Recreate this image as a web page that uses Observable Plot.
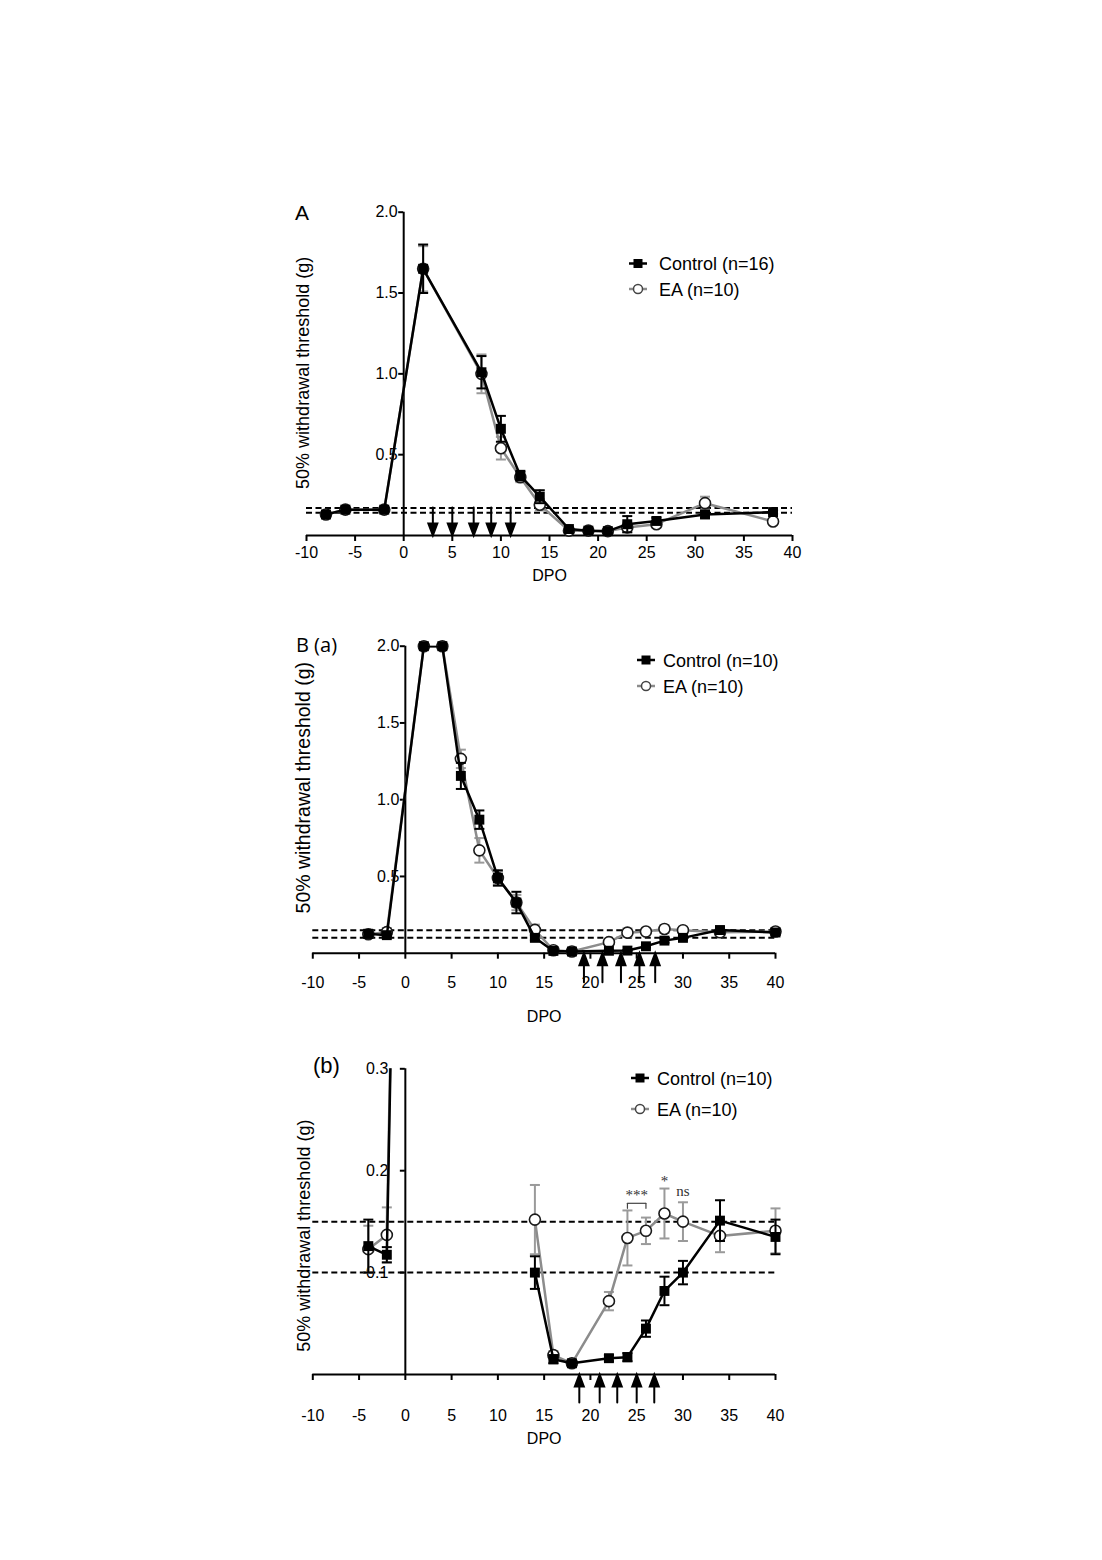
<!DOCTYPE html>
<html>
<head>
<meta charset="utf-8">
<script src="https://cdn.jsdelivr.net/npm/d3@7"></script>
<script src="https://cdn.jsdelivr.net/npm/@observablehq/plot@0.6"></script>
<style>
  html, body { margin: 0; padding: 0; background: #fff; }
  #page { position: relative; width: 1102px; height: 1560px; background: #fff; overflow: hidden; }
  #page > svg { position: absolute; left: 0; }
</style>
</head>
<body>
<div id="page"></div>
<script>
// ---------------- data ----------------
const xTicks = [-10, -5, 0, 5, 10, 15, 20, 25, 30, 35, 40];
const yLabel = "50% withdrawal threshold (g)";
const xLabel = "DPO";

// Panel A
const daysA = [-8, -6, -2, 2, 8, 10, 12, 14, 17, 19, 21, 23, 26, 31, 38];
const controlA = [0.13, 0.16, 0.16, 1.65, 1.01, 0.66, 0.37, 0.24, 0.04, 0.03, 0.027, 0.07, 0.09, 0.13, 0.145];
const controlErrA = [0.01, 0.01, 0.01, 0.15, 0.10, 0.08, 0.03, 0.04, 0.01, 0.01, 0.01, 0.05, 0.02, 0.02, 0.01];
const eaA = [0.13, 0.16, 0.16, 1.65, 1.0, 0.54, 0.36, 0.19, 0.03, 0.03, 0.027, 0.05, 0.07, 0.20, 0.087];
const eaErrA = [0.01, 0.01, 0.01, 0.14, 0.12, 0.07, 0.03, 0.035, 0.01, 0.01, 0.01, 0.03, 0.02, 0.04, 0.01];
const thresholdsA = [0.14, 0.17];
const treatDaysA = [3, 5, 7.2, 9, 11];
const yTicksA = [0.5, 1.0, 1.5, 2.0];
const legendA = ["Control (n=16)", "EA (n=10)"];

// Panel B
const daysB = [-4, -2, 2, 4, 6, 8, 10, 12, 14, 16, 18, 22, 24, 26, 28, 30, 34, 40];
const controlB = [0.126, 0.1175, 2.0, 2.0, 1.155, 0.87, 0.49, 0.33, 0.100, 0.015, 0.011, 0.016, 0.017, 0.045, 0.082, 0.100, 0.151, 0.135];
const controlErrB = [0.026, 0.0075, 0, 0, 0.085, 0.06, 0.05, 0.07, 0.016, 0.004, 0.003, 0.003, 0.004, 0.008, 0.014, 0.0115, 0.02, 0.017];
const eaB = [0.123, 0.137, 2.0, 2.0, 1.266, 0.67, 0.49, 0.33, 0.152, 0.019, 0.011, 0.072, 0.134, 0.141, 0.158, 0.150, 0.136, 0.141];
const eaErrB = [0.023, 0.027, 0, 0, 0.06, 0.08, 0.04, 0.05, 0.034, 0.004, 0.003, 0.009, 0.027, 0.013, 0.0245, 0.019, 0.016, 0.022];
const thresholdsB = [0.10, 0.15];
const treatDaysBa = [19.3, 21.3, 23.3, 25.3, 27.0];
const treatDaysBb = [18.8, 21.0, 22.9, 25.0, 26.9];
const yTicksBa = [0.5, 1.0, 1.5, 2.0];
const yTicksBb = [0.1, 0.2, 0.3];
const hiddenDaysBb = [4, 6, 8, 10, 12];
const legendB = ["Control (n=10)", "EA (n=10)"];

// significance annotations in (b)
const sigLabels = ["***", "*", "ns"];
const sigDays = [25, 28, 30];
const sigValues = [0.176, 0.190, 0.180];
const bracketDays = [24, 26];
const bracketValue = 0.168;

// ---------------- styles ----------------
const CTRL = "#000";
const EA_LINE = "#8c8c8c";
const EA_ERR = "#9a9a9a";
const EA_MARK = "#1a1a1a";
const SANS = "'Liberation Sans', Arial, sans-serif";

const capSymbol = { draw(ctx, size) { const w = Math.sqrt(size / Math.PI); ctx.moveTo(-w, 0); ctx.lineTo(w, 0); } };
const arrowShape = { draw(ctx, l) { const hl = 12, w = 4.5; ctx.moveTo(0, 0); ctx.lineTo(0, -l + hl); ctx.moveTo(-w, -l + hl); ctx.lineTo(0, -l); ctx.lineTo(w, -l + hl); ctx.closePath(); } };
const tickShape = { draw(ctx, l) { ctx.moveTo(0, 0); ctx.lineTo(0, -l); } };

function buildRows(days, vals, errs, hidden) {
  const rows = [];
  let seg = 0, gap = false;
  days.forEach((d, i) => {
    if (hidden.includes(d)) { gap = true; return; }
    if (gap) { seg++; gap = false; }
    rows.push({ day: d, v: vals[i], e: errs[i], seg });
  });
  return rows;
}

function panel(cfg) {
  const ctrl = buildRows(cfg.days, cfg.ctrl, cfg.ctrlErr, cfg.hidden);
  const ea = buildRows(cfg.days, cfg.ea, cfg.eaErr, cfg.hidden);
  const inRange = d => d.v <= cfg.yMax;
  const ctrlE = ctrl.filter(d => d.e > 0 && inRange(d));
  const eaE = ea.filter(d => d.e > 0 && inRange(d));
  const ctrlP = ctrl.filter(inRange);
  const eaP = ea.filter(inRange);
  const marks = [
    Plot.ruleY(cfg.thresholds, { stroke: "#000", strokeWidth: 2, strokeDasharray: "6,3.5" }),
    Plot.ruleY([0], { stroke: "#000", strokeWidth: 2 }),
    Plot.ruleX([0], { stroke: "#000", strokeWidth: 2 }),
    Plot.axisX({ ticks: xTicks, tickSize: 6, tickPadding: cfg.xPad, strokeWidth: 2, fontSize: 16, tickFormat: d => String(d), label: null }),
    Plot.axisY({ ticks: cfg.yTicks, x: 0, tickSize: 5, tickPadding: cfg.yPad, strokeWidth: 2, fontSize: 16, tickFormat: d3.format(".1f"), label: null }),
    // EA
    Plot.ruleX(eaE, { x: "day", y1: d => d.v - d.e, y2: d => d.v + d.e, stroke: EA_ERR, strokeWidth: 2 }),
    Plot.dot(eaE, { x: "day", y: d => d.v + d.e, symbol: capSymbol, r: 5, fill: "none", stroke: EA_ERR, strokeWidth: 2 }),
    Plot.dot(eaE, { x: "day", y: d => d.v - d.e, symbol: capSymbol, r: 5, fill: "none", stroke: EA_ERR, strokeWidth: 2 }),
    Plot.line(ea, { x: "day", y: "v", z: "seg", stroke: EA_LINE, strokeWidth: 2.5, clip: true }),
    Plot.dot(eaP, { x: "day", y: "v", r: 5.5, fill: "#fff", stroke: EA_MARK, strokeWidth: 1.6 }),
    // Control
    Plot.ruleX(ctrlE, { x: "day", y1: d => d.v - d.e, y2: d => d.v + d.e, stroke: CTRL, strokeWidth: 2 }),
    Plot.dot(ctrlE, { x: "day", y: d => d.v + d.e, symbol: capSymbol, r: 5, fill: "none", stroke: CTRL, strokeWidth: 2 }),
    Plot.dot(ctrlE, { x: "day", y: d => d.v - d.e, symbol: capSymbol, r: 5, fill: "none", stroke: CTRL, strokeWidth: 2 }),
    Plot.line(ctrl, { x: "day", y: "v", z: "seg", stroke: CTRL, strokeWidth: 2.5, clip: true }),
    Plot.dot(ctrlP, { x: "day", y: "v", symbol: "square", r: 5.6, fill: CTRL, stroke: "none" }),
    // treatment arrows
    Plot.vector(cfg.arrows, { x: d => d, y: 0, rotate: cfg.arrowRotate, length: cfg.arrowLen, anchor: "end", shape: arrowShape, fill: "#000", stroke: "#000", strokeWidth: 2, strokeLinejoin: "miter" }),
    // axis titles
    Plot.text([xLabel], { text: d => d, frameAnchor: "bottom", textAnchor: "middle", lineAnchor: "middle", dy: cfg.dpoDy, fontSize: 16 }),
    Plot.text([yLabel], { text: d => d, frameAnchor: "left", textAnchor: "middle", lineAnchor: "middle", rotate: -90, dx: cfg.ylabDx, dy: cfg.ylabDy, fontSize: cfg.ylabSize })
  ];
  if (cfg.sig) {
    marks.push(
      Plot.link([bracketDays], { x1: d => d[0], x2: d => d[1], y1: bracketValue, y2: bracketValue, stroke: "#444", strokeWidth: 1.2 }),
      Plot.vector(bracketDays, { x: d => d, y: bracketValue, rotate: 180, length: 5, anchor: "start", shape: tickShape, stroke: "#444", strokeWidth: 1.2 }),
      Plot.text(sigLabels, { x: (d, i) => sigDays[i], y: (d, i) => sigValues[i], text: d => d, fontFamily: "'Liberation Serif', 'Times New Roman', serif", fontSize: 15, fill: "#333" })
    );
  }
  const svg = Plot.plot({
    width: 1102, height: cfg.height,
    marginLeft: cfg.ml, marginRight: cfg.mr, marginTop: cfg.mt, marginBottom: cfg.mb,
    x: { domain: [-10, 40] },
    y: { domain: [0, cfg.yMax] },
    style: { fontFamily: SANS, fontSize: "16px", background: "transparent", color: "#000", overflow: "visible" },
    marks
  });
  svg.style.top = cfg.top + "px";
  return svg;
}

const page = document.getElementById("page");

page.appendChild(panel({
  top: 190, height: 410, mt: 21.7, mb: 65, ml: 306, mr: 310, yMax: 2.0,
  days: daysA, ctrl: controlA, ctrlErr: controlErrA, ea: eaA, eaErr: eaErrA, hidden: [],
  thresholds: thresholdsA, yTicks: yTicksA, arrows: treatDaysA, arrowRotate: 180, arrowLen: 28,
  xPad: 5, yPad: 1, dpoDy: 40, ylabDx: -3, ylabDy: -1, ylabSize: 18, sig: false
}));

page.appendChild(panel({
  top: 620, height: 420, mt: 25.7, mb: 87.3, ml: 312.3, mr: 327, yMax: 2.0,
  days: daysB, ctrl: controlB, ctrlErr: controlErrB, ea: eaB, eaErr: eaErrB, hidden: [],
  thresholds: thresholdsB, yTicks: yTicksBa, arrows: treatDaysBa, arrowRotate: 0, arrowLen: 29,
  xPad: 17, yPad: 1, dpoDy: 64, ylabDx: -9, ylabDy: -12, ylabSize: 19.5, sig: false
}));

page.appendChild(panel({
  top: 1040, height: 440, mt: 28.3, mb: 106, ml: 312.3, mr: 327, yMax: 0.3,
  days: daysB, ctrl: controlB, ctrlErr: controlErrB, ea: eaB, eaErr: eaErrB, hidden: hiddenDaysBb,
  thresholds: thresholdsB, yTicks: yTicksBb, arrows: treatDaysBb, arrowRotate: 0, arrowLen: 28,
  xPad: 29, yPad: 12, dpoDy: 64, ylabDx: -9, ylabDy: 14, ylabSize: 18, sig: true
}));

// ---------------- overlay: panel letters and legends ----------------
const overlay = d3.create("svg").attr("width", 1102).attr("height", 1560).style("top", "0px");
const letters = [
  { t: "A", x: 295, y: 220, font: SANS, size: 21 },
  { t: "B (a)", x: 296, y: 652, font: "'Open Sans', sans-serif", size: 20 },
  { t: "(b)", x: 313, y: 1073, font: SANS, size: 22 }
];
letters.forEach(l => overlay.append("text").attr("x", l.x).attr("y", l.y).attr("font-family", l.font).attr("font-size", l.size).attr("fill", "#000").text(l.t));

function legend(labels, mx, tx, y1, y2) {
  const ys = [y1, y2];
  labels.forEach((lab, i) => {
    const y = ys[i];
    const isCtrl = i === 0;
    overlay.append("line").attr("x1", mx - 9).attr("x2", mx + 9).attr("y1", y).attr("y2", y)
      .attr("stroke", isCtrl ? CTRL : EA_LINE).attr("stroke-width", 2.5);
    if (isCtrl) overlay.append("rect").attr("x", mx - 4.5).attr("y", y - 4.5).attr("width", 9).attr("height", 9).attr("fill", CTRL);
    else overlay.append("circle").attr("cx", mx).attr("cy", y).attr("r", 4.5).attr("fill", "#fff").attr("stroke", "#444").attr("stroke-width", 1.5);
    overlay.append("text").attr("x", tx).attr("y", y + 6.5).attr("font-family", SANS).attr("font-size", 18).attr("fill", "#000").text(lab);
  });
}
legend(legendA, 638, 659, 263.5, 289);
legend(legendB, 646, 663, 660, 686);
legend(legendB, 640, 657, 1078, 1109);

page.appendChild(overlay.node());
</script>
</body>
</html>
